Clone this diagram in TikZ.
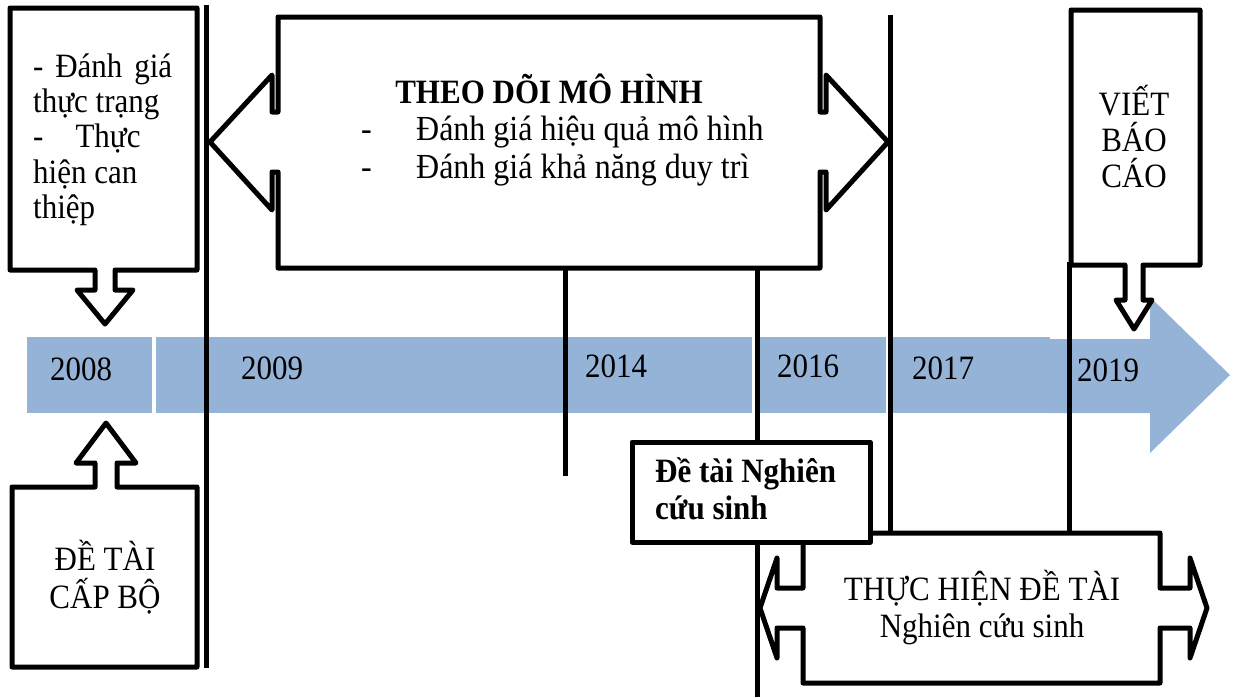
\documentclass[tikz,border=0pt]{standalone}
\usepackage{fontspec}
\usepackage{graphicx}
\setmainfont{Liberation Serif}
\definecolor{bandblue}{HTML}{95B3D7}
\newcommand{\tall}[1]{\scalebox{1}[1.1]{#1}}
\begin{document}
\begin{tikzpicture}[x=1pt,y=-1pt,
  every node/.style={inner sep=0pt, font=\fontsize{31}{37}\selectfont},
  band/.style={fill=bandblue, draw=none},
  vline/.style={line width=5pt, black},
  callout/.style={draw=black, line width=5pt, fill=white, line join=round},
  txt/.style={anchor=base},
  txtl/.style={anchor=base west},
  bold/.style={font=\fontsize{31}{37}\selectfont\bfseries},
  big/.style={font=\fontsize{32}{38}\selectfont}]
\useasboundingbox (0,0) rectangle (1237,697);

% timeline band
\fill[band] (27,337) rectangle (152,413);
\fill[band] (156,337) rectangle (752,413);
\fill[band] (755,337) rectangle (886,413);
\fill[band] (889,337) rectangle (1050,413);
\fill[band] (1050,339) -- (1150,339) -- (1150,297) -- (1230,375) -- (1150,453) -- (1150,413) -- (1050,413) -- cycle;

% years
\node[txtl] (y2008) at (50,380) {\tall{2008}};
\node[txtl] (y2009) at (241,379) {\tall{2009}};
\node[txtl] (y2014) at (585,377) {\tall{2014}};
\node[txtl] (y2016) at (777,377) {\tall{2016}};
\node[txtl] (y2017) at (912,379) {\tall{2017}};
\node[txtl] (y2019) at (1077,381) {\tall{2019}};

% vertical lines
\coordinate (l1a) at (206,5);    \coordinate (l1b) at (206,668);
\coordinate (l2a) at (565,270);  \coordinate (l2b) at (565,476);
\coordinate (l3a) at (757,263);  \coordinate (l3b) at (757,697);
\coordinate (l4a) at (890,15);   \coordinate (l4b) at (890,533);
\coordinate (l5a) at (1069,262); \coordinate (l5b) at (1069,533);
\draw[vline] (l1a) -- (l1b);
\draw[vline] (l2a) -- (l2b);
\draw[vline] (l3a) -- (l3b);
\draw[vline] (l4a) -- (l4b);
\draw[vline] (l5a) -- (l5b);

% top-left callout (down arrow)
\draw[callout] (10,8) -- (197,8) -- (197,270) -- (115,270) -- (115,290) -- (133,290) -- (105,324) -- (77,290) -- (95,290) -- (95,270) -- (10,270) -- cycle;
\node[txtl] (tl1) at (33,77) {\tall{\makebox[139pt][s]{- Đánh giá}}};
\node[txtl] (tl2) at (33,112) {\tall{thực trạng}};
\node[txtl] (tl3) at (33,147) {\tall{-\hspace{32pt}Thực}};
\node[txtl] (tl4) at (33,183) {\tall{hiện can}};
\node[txtl] (tl5) at (33,218) {\tall{thiệp}};

% bottom-left callout (up arrow)
\draw[callout] (12,667) -- (12,487) -- (95,487) -- (95,463) -- (76,463) -- (106,423) -- (136,463) -- (117,463) -- (117,487) -- (197,487) -- (197,667) -- cycle;
\node[txt] (bl1) at (105,570) {\tall{ĐỀ TÀI}};
\node[txt] (bl2) at (105,608) {\tall{CẤP BỘ}};

% big left-right callout
\draw[callout] (278,17) -- (820,17) -- (820,112) -- (826,112) -- (826,75) -- (888,142) -- (826,210) -- (826,172) -- (820,172) -- (820,268) -- (278,268) -- (278,172) -- (272,172) -- (272,210) -- (210,142) -- (272,75) -- (272,112) -- (278,112) -- cycle;
\node[txt,bold] (title) at (549,103) {\tall{THEO DÕI MÔ HÌNH}};
\node[txtl,big] (b1) at (361,140) {\tall{-\hspace{44.3pt}Đánh giá hiệu quả mô hình}};
\node[txtl,big] (b2) at (361,178) {\tall{-\hspace{44.3pt}Đánh giá khả năng duy trì}};

% VIET BAO CAO callout (down arrow)
\draw[callout] (1071,10) -- (1200,10) -- (1200,265) -- (1143,265) -- (1143,300) -- (1152,300) -- (1134,329) -- (1116,300) -- (1125,300) -- (1125,265) -- (1071,265) -- cycle;
\node[txt] (v1) at (1134,115) {\tall{VIẾT}};
\node[txt] (v2) at (1134,151) {\tall{BÁO}};
\node[txt] (v3) at (1134,187) {\tall{CÁO}};

% THUC HIEN callout
\draw[callout] (803,533) -- (1160,533) -- (1160,588) -- (1190,588) -- (1190,558) -- (1207,608) -- (1190,658) -- (1190,628) -- (1160,628) -- (1160,683) -- (803,683) -- (803,628) -- (777,628) -- (777,658) -- (760,608) -- (777,558) -- (777,588) -- (803,588) -- cycle;
\node[txt] (th1) at (982,600) {\tall{THỰC HIỆN ĐỀ TÀI}};
\node[txt] (th2) at (982,637) {\tall{Nghiên cứu sinh}};

% De tai NCS box
\draw[callout] (632,442) rectangle (870,542);
\node[txtl,bold] (dt1) at (655,482) {\tall{Đề tài Nghiên}};
\node[txtl,bold] (dt2) at (655,519) {\tall{cứu sinh}};
\end{tikzpicture}
\end{document}
